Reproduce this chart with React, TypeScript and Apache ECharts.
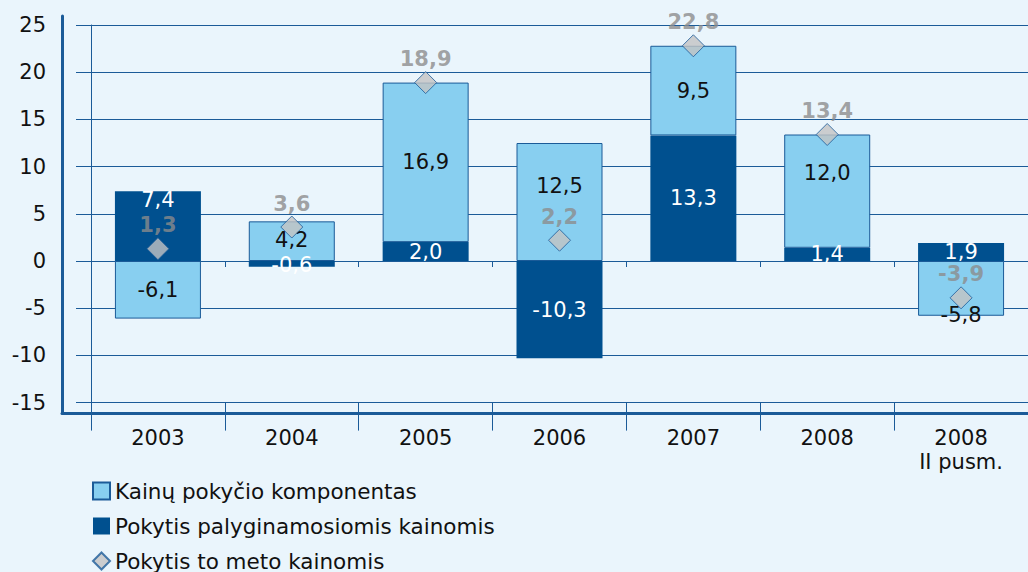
import React, { useEffect, useRef } from 'react';
import * as echarts from 'echarts';

const categories = ['2003', '2004', '2005', '2006', '2007', '2008', '2008\nII pusm.'];
const componentValues = [-6.1, 4.2, 16.9, 12.5, 9.5, 12.0, -5.8];
const comparableValues = [7.4, -0.6, 2.0, -10.3, 13.3, 1.4, 1.9];
const currentValues = [1.3, 3.6, 18.9, 2.2, 22.8, 13.4, -3.9];
const yMin = -15;
const yMax = 25;
const yStep = 5;

// label nudges (pixels) to mimic the manually placed labels of the original
const componentLabelShift = [0, -1, 0, -16, 0, -18, 27];
const comparableLabelShift = [-26, 1, 0, 0, 0, 0, 0];

const NAME_COMPONENT = 'Kainų pokyčio komponentas';
const NAME_COMPARABLE = 'Pokytis palyginamosiomis kainomis';
const NAME_CURRENT = 'Pokytis to meto kainomis';

const FONT = '"DejaVu Sans", Verdana, sans-serif';
const FS = 21;
const AX = '#1b5b98';
const DARK = '#00508f';
const LIGHT = '#88cff0';
const BG = '#eaf5fc';

const fmt = (p: any) => {
  const v = typeof p.value === 'number' ? p.value : p.data?.value;
  return Number(v).toFixed(1).replace('.', ',');
};

export default function App() {
  const ref = useRef<HTMLDivElement>(null);
  useEffect(() => {
    const chart = echarts.init(ref.current!, null, { renderer: 'svg' });
    const gridTop = 25;
    const gridH = 377.6;
    chart.setOption({
      animation: false,
      backgroundColor: BG,
      textStyle: { fontFamily: FONT },
      grid: [
        { left: 91, right: -8, top: gridTop, height: gridH },
        { left: 76, right: -8, top: gridTop, height: gridH },
        { left: 62, right: -8, top: 16, height: 397 },
      ],
      xAxis: [
        {
          gridIndex: 0,
          type: 'category',
          data: categories,
          position: 'bottom',
          axisLine: { show: false, onZero: false },
          axisTick: { show: true, interval: 0, length: 28, lineStyle: { color: AX, width: 1 } },
          axisLabel: {
            interval: 0,
            margin: 23,
            fontSize: FS,
            lineHeight: 24,
            color: '#111',
            fontFamily: FONT,
          },
        },
        {
          gridIndex: 0,
          type: 'category',
          data: categories,
          position: 'top',
          axisLine: { show: false, onZero: true },
          axisTick: { show: true, inside: true, interval: 0, length: 6, lineStyle: { color: AX, width: 1 } },
          axisLabel: { show: false },
        },
        { gridIndex: 1, type: 'value', show: false },
        {
          gridIndex: 2,
          type: 'value',
          min: 0,
          max: 1,
          position: 'bottom',
          axisLine: { show: true, onZero: false, lineStyle: { color: AX, width: 3 } },
          axisTick: { show: false },
          axisLabel: { show: false },
          splitLine: { show: false },
        },
      ],
      yAxis: [
        {
          gridIndex: 0,
          type: 'value',
          min: yMin,
          max: yMax,
          interval: yStep,
          axisLine: { show: true, onZero: false, lineStyle: { color: AX, width: 1 } },
          axisTick: { show: false },
          axisLabel: { show: false },
          splitLine: { show: false },
        },
        {
          gridIndex: 1,
          type: 'value',
          min: yMin,
          max: yMax,
          interval: yStep,
          axisLine: { show: false },
          axisTick: { show: false },
          axisLabel: { margin: 30, fontSize: FS, color: '#111', fontFamily: FONT },
          splitLine: { show: true, lineStyle: { color: AX, width: 1 } },
        },
        {
          gridIndex: 2,
          type: 'value',
          min: 0,
          max: 1,
          axisLine: { show: true, onZero: false, lineStyle: { color: AX, width: 3 } },
          axisTick: { show: false },
          axisLabel: { show: false },
          splitLine: { show: false },
        },
      ],
      legend: {
        orient: 'vertical',
        left: 92,
        top: 480,
        height: 100,
        padding: 0,
        itemWidth: 17,
        itemHeight: 17,
        itemGap: 13,
        selectedMode: false,
        textStyle: { fontSize: 21.5, lineHeight: 20, color: '#111', fontFamily: FONT },
        data: [
          { name: NAME_COMPONENT, icon: 'rect' },
          { name: NAME_COMPARABLE, icon: 'rect' },
          { name: NAME_CURRENT, icon: 'diamond' },
        ],
      },
      series: [
        {
          name: NAME_COMPARABLE,
          type: 'bar',
          stack: 'total',
          xAxisIndex: 0,
          yAxisIndex: 0,
          barWidth: 86,
          itemStyle: { color: DARK },
          label: {
            show: true,
            position: 'inside',
            color: '#ffffff',
            fontSize: FS,
            lineHeight: 20,
            fontFamily: FONT,
            formatter: fmt,
          },
          data: comparableValues.map((v, i) => ({ value: v, label: { offset: [0, comparableLabelShift[i]] } })),
        },
        {
          name: NAME_COMPONENT,
          type: 'bar',
          stack: 'total',
          xAxisIndex: 0,
          yAxisIndex: 0,
          barWidth: 86,
          itemStyle: { color: LIGHT, borderColor: AX, borderWidth: 1 },
          label: {
            show: true,
            position: 'inside',
            color: '#111',
            fontSize: FS,
            lineHeight: 20,
            fontFamily: FONT,
            formatter: fmt,
          },
          data: componentValues.map((v, i) => ({ value: v, label: { offset: [0, componentLabelShift[i]] } })),
        },
        {
          name: NAME_CURRENT,
          type: 'scatter',
          xAxisIndex: 0,
          yAxisIndex: 0,
          symbol: 'diamond',
          symbolSize: 22,
          itemStyle: { color: '#c3c3c3', borderColor: AX, borderWidth: 1 },
          label: {
            show: true,
            position: 'top',
            distance: 2,
            color: '#8c8c8c',
            fontWeight: 'bold',
            fontSize: FS,
            lineHeight: 20,
            fontFamily: FONT,
            formatter: fmt,
          },
          data: currentValues,
        },
      ],
    });
    return () => chart.dispose();
  }, []);
  return <div ref={ref} style={{ position: 'absolute', left: 0, top: 0, width: 1028, height: 572 }} />;
}
